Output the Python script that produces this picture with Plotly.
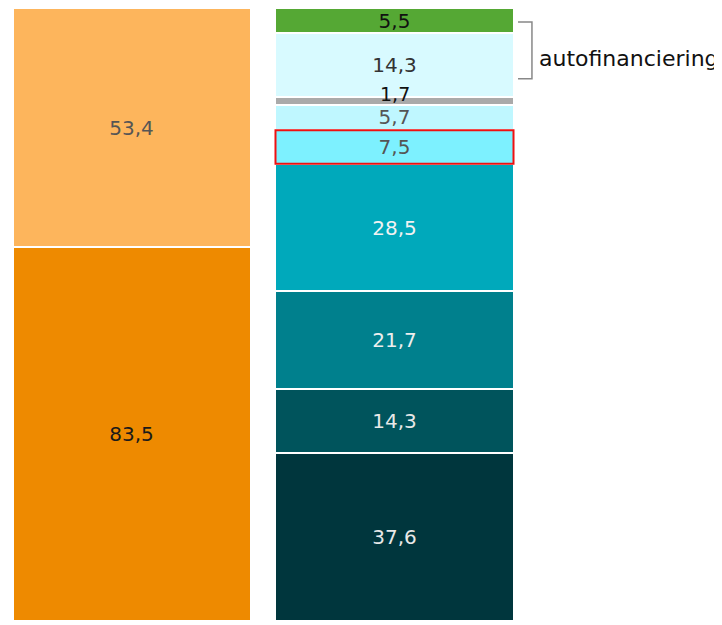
import plotly.graph_objects as go
import numpy as np

# ---- data ----
left_values = [83.5, 53.4]
left_colors = ["#ee8a00", "#fdb55c"]
left_text_colors = ["#1a1a1a", "#555555"]

right_values = [37.6, 14.3, 21.7, 28.5, 7.5, 5.7, 1.7, 14.3, 5.5]
right_colors = ["#00363d", "#00545c", "#00808d", "#00a9bb", "#7df1ff",
                "#bff7ff", "#aaaaaa", "#d8faff", "#55a834"]
right_text_colors = ["#e8e8e8", "#e8e8e8", "#eeeeee", "#f2f2f2", "#555555",
                     "#555555", "#111111", "#333333", "#111111"]
highlight_index = 4      # 7,5 segment outlined in red
small_label_index = 6    # 1,7 label placed above its thin segment
bracket_label = "autofinanciering"

def fmt(v):
    return f"{v:.1f}".replace(".", ",")

BAR_W = 0.905
FONT = "DejaVu Sans"

fig = go.Figure()

for v, c, tc in zip(left_values, left_colors, left_text_colors):
    fig.add_trace(go.Bar(
        x=[0], y=[v], width=BAR_W,
        marker=dict(color=c, line=dict(color="white", width=2)),
        text=[fmt(v)], textposition="inside", insidetextanchor="middle",
        textfont=dict(family=FONT, size=20, color=tc),
        hoverinfo="skip", showlegend=False,
    ))

for i, (v, c, tc) in enumerate(zip(right_values, right_colors, right_text_colors)):
    fig.add_trace(go.Bar(
        x=[1], y=[v], width=BAR_W,
        marker=dict(color=c, line=dict(color="white", width=2)),
        text=[fmt(v) if i != small_label_index else ""],
        textposition="inside", insidetextanchor="middle",
        textfont=dict(family=FONT, size=20, color=tc),
        hoverinfo="skip", showlegend=False,
    ))

cum = np.concatenate([[0], np.cumsum(right_values)])
total = max(sum(left_values), sum(right_values))

# red highlight box around the 7,5 segment
fig.add_shape(type="rect", xref="x", yref="y",
              x0=1 - BAR_W / 2, x1=1 + BAR_W / 2,
              y0=cum[highlight_index], y1=cum[highlight_index + 1],
              line=dict(color="#ee1111", width=2), fillcolor="rgba(0,0,0,0)")

# label for the thin gray segment
fig.add_annotation(x=1, y=(cum[small_label_index] + cum[small_label_index + 1]) / 2,
                   xref="x", yref="y", text=fmt(right_values[small_label_index]),
                   showarrow=False, yshift=7,
                   font=dict(family=FONT, size=19, color="#111111"))

# bracket + label
b_top = 133.8
b_bot = 121.1
bx0, bx1 = 0.9846, 1.0115
fig.add_shape(type="path", xref="paper", yref="y",
              path=f"M {bx0},{b_top} L {bx1},{b_top} L {bx1},{b_bot} L {bx0},{b_bot}",
              line=dict(color="#888888", width=1.5))
fig.add_annotation(x=1.0212, y=125.6, xref="paper", yref="y", xanchor="left",
                   yanchor="middle", text=bracket_label, showarrow=False,
                   font=dict(family=FONT, size=22, color="#111111"))

# page adds an 8px body margin, so the figure is sized/offset to compensate
fig.update_layout(
    width=714, height=617,
    barmode="stack",
    margin=dict(l=0, r=196, t=0, b=4),
    plot_bgcolor="white", paper_bgcolor="white",
    uniformtext=dict(minsize=20, mode="show"),
    xaxis=dict(range=[-0.4696, 1.5], visible=False, fixedrange=True),
    yaxis=dict(range=[0, total], visible=False, fixedrange=True),
)

fig.write_html("out.html")
